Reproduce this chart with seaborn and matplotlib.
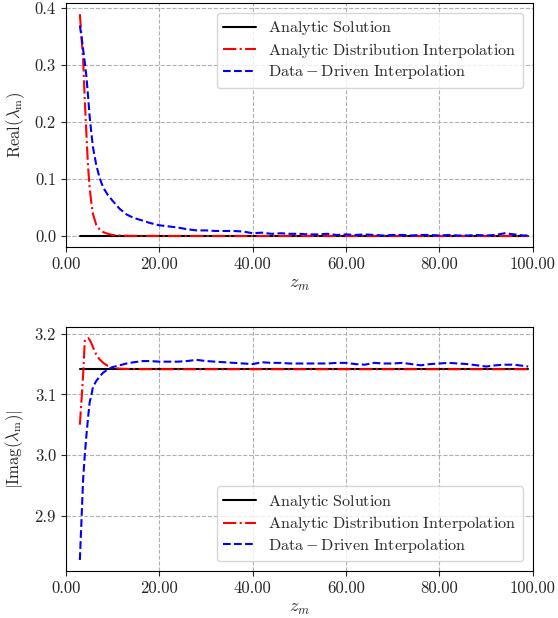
import numpy as np
import pandas as pd
import matplotlib
matplotlib.use("Agg")
import matplotlib.pyplot as plt
import seaborn as sns
from matplotlib.ticker import FormatStrFormatter

# ---- data ----
z = [3, 3.35, 3.7, 4.05, 4.4, 4.76, 5.1, 5.5, 5.8, 6.5, 7.2, 8, 9, 10, 11.5, 13, 14.5,
     16.5, 18, 20, 22, 24, 26, 28, 30, 32, 34, 36, 38, 40, 42, 44, 46, 48, 50, 52, 54,
     56, 58, 60, 62, 64, 66, 68, 70, 72, 74, 76, 78, 80, 82, 84, 86, 88, 90, 92, 94,
     96, 98, 99]

real_analytic = [0.0] * len(z)
real_distribution = [0.389, 0.35, 0.31, 0.239, 0.18, 0.121, 0.085, 0.055, 0.039, 0.02,
                     0.012, 0.007, 0.004, 0.002, 0.001, 0.0005, 0.0004, 0.0003, 0.0003,
                     0.0002, 0.0002, 0.0002, 0.0002, 0.0002, 0.0002, 0.0002, 0.0002,
                     0.0002, 0.0002, 0.0002, 0.0002, 0.0002, 0.0002, 0.0002, 0.0002,
                     0.0002, 0.0002, 0.0002, 0.0002, 0.0002, 0.0002, 0.0002, 0.0002,
                     0.0002, 0.0002, 0.0002, 0.0002, 0.0002, 0.0002, 0.0002, 0.0002,
                     0.0002, 0.0002, 0.0002, 0.0002, 0.0002, 0.0002, 0.0002, 0.0002, 0.0002]
real_datadriven = [0.369, 0.35, 0.327, 0.305, 0.28, 0.245, 0.209, 0.178, 0.156, 0.125,
                   0.103, 0.085, 0.072, 0.062, 0.048, 0.038, 0.032, 0.027, 0.023, 0.019,
                   0.017, 0.015, 0.012, 0.010, 0.010, 0.009, 0.009, 0.009, 0.008, 0.005,
                   0.006, 0.004, 0.005, 0.004, 0.004, 0.003, 0.003, 0.004, 0.002, 0.003,
                   0.002, 0.003, 0.002, 0.001, 0.002, 0.002, 0.001, 0.002, 0.002, 0.001,
                   0.002, 0.001, 0.001, 0.002, 0.001, 0.002, 0.005, 0.003, 0.001, 0.001]

imag_analytic = [3.14159] * len(z)
imag_distribution = [3.050, 3.09, 3.132, 3.188, 3.192, 3.193, 3.190, 3.184, 3.178, 3.166,
                     3.158, 3.152, 3.147, 3.144, 3.1425, 3.142, 3.1418, 3.1417, 3.1417,
                     3.1416, 3.1416, 3.1416, 3.1416, 3.1416, 3.1416, 3.1416, 3.1416,
                     3.1416, 3.1416, 3.1416, 3.1416, 3.1416, 3.1416, 3.1416, 3.1416,
                     3.1416, 3.1416, 3.1416, 3.1416, 3.1416, 3.1416, 3.1416, 3.1416,
                     3.1416, 3.1416, 3.1416, 3.1416, 3.1416, 3.1416, 3.1416, 3.1416,
                     3.1416, 3.1416, 3.1416, 3.1416, 3.1416, 3.1416, 3.1416, 3.1416, 3.1416]
imag_datadriven = [2.827, 2.893, 2.96, 3.00, 3.032, 3.062, 3.087, 3.10, 3.112, 3.122,
                   3.129, 3.136, 3.141, 3.145, 3.148, 3.151, 3.153, 3.155, 3.155, 3.154,
                   3.154, 3.154, 3.155, 3.157, 3.155, 3.154, 3.153, 3.152, 3.151, 3.150,
                   3.153, 3.152, 3.152, 3.151, 3.151, 3.151, 3.151, 3.151, 3.152, 3.152,
                   3.150, 3.149, 3.152, 3.151, 3.151, 3.152, 3.150, 3.148, 3.150, 3.151,
                   3.152, 3.151, 3.150, 3.148, 3.146, 3.148, 3.149, 3.149, 3.147, 3.146]

labels = [r"$\mathrm{Analytic\ Solution}$",
          r"$\mathrm{Analytic\ Distribution\ Interpolation}$",
          r"$\mathrm{Data-Driven\ Interpolation}$"]
xticks = [0, 20, 40, 60, 80, 100]

# ---- style ----
sns.set_style("ticks")
plt.rcParams["font.family"] = ["serif"]
plt.rcParams["font.serif"] = ["cmr10"]
plt.rcParams["mathtext.fontset"] = "cm"
plt.rcParams["axes.unicode_minus"] = False
plt.rcParams["axes.formatter.use_mathtext"] = True

fig = plt.figure(figsize=(5.58, 6.18), dpi=100)
ax1 = fig.add_axes([0.118, 0.600, 0.837, 0.395])
ax2 = fig.add_axes([0.118, 0.076, 0.837, 0.395])

styles = [("black", "-"), ("red", "-."), ("blue", "--")]

for ax, series, ylab, loc in [
    (ax1, [real_analytic, real_distribution, real_datadriven],
     r"$\mathrm{Real}(\lambda_{\mathrm{m}})$", "upper right"),
    (ax2, [imag_analytic, imag_distribution, imag_datadriven],
     r"$|\mathrm{Imag}(\lambda_{\mathrm{m}})|$", "lower right"),
]:
    for vals, (c, ls), lab in zip(series, styles, labels):
        sns.lineplot(x=z, y=vals, ax=ax, color=c, linestyle=ls, linewidth=1.5,
                     label=lab, estimator=None, sort=False)
    ax.set_xlim(0, 100)
    ax.set_xticks(xticks)
    ax.xaxis.set_major_formatter(FormatStrFormatter("%.2f"))
    ax.yaxis.set_major_formatter(FormatStrFormatter("%.1f"))
    ax.grid(True, linestyle="--", color="#b0b0b0", linewidth=0.8)
    ax.set_axisbelow(True)
    ax.set_xlabel(r"$z_m$", fontsize=13)
    ax.set_ylabel(ylab, fontsize=12, labelpad=6)
    ax.tick_params(labelsize=12, direction="out", length=3.5)
    for s in ax.spines.values():
        s.set_color("black")
        s.set_linewidth(0.8)
    ax.legend(loc=loc, fontsize=11.6, framealpha=0.8, edgecolor="#cccccc",
              labelspacing=0.22, borderaxespad=0.6)

ax1.set_yticks([0.0, 0.1, 0.2, 0.3, 0.4])
ax2.set_yticks([2.9, 3.0, 3.1, 3.2])

fig.savefig("out.png", dpi=100)
